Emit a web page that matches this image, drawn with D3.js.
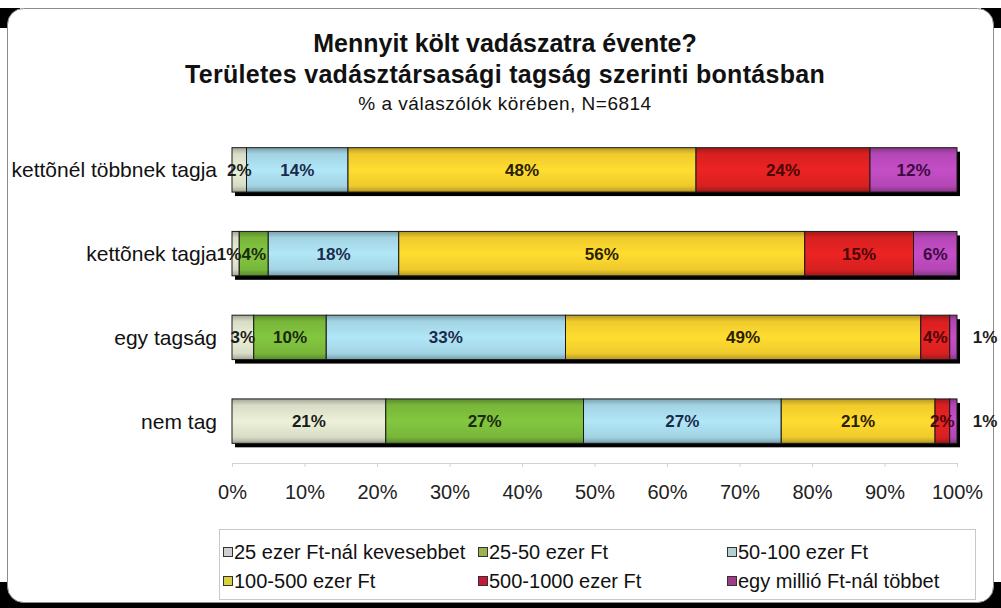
<!DOCTYPE html>
<html>
<head>
<meta charset="utf-8">
<script src="https://cdn.jsdelivr.net/npm/d3@7"></script>
<style>
  body { margin: 0; background: #fff; }
  svg { display: block; font-family: "Liberation Sans", Arial, sans-serif; }
</style>
</head>
<body>
<div id="container"></div>
<script>
// DATA
const categories = ["kettõnél többnek tagja", "kettõnek tagja", "egy tagság", "nem tag"];
const seriesNames = ["25 ezer Ft-nál kevesebbet", "25-50 ezer Ft", "50-100 ezer Ft",
                     "100-500 ezer Ft", "500-1000 ezer Ft", "egy millió Ft-nál többet"];
const under25 = [2, 1, 3, 21];
const from25to50 = [0, 4, 10, 27];
const from50to100 = [14, 18, 33, 27];
const from100to500 = [48, 56, 49, 21];
const from500to1000 = [24, 15, 4, 2];
const overMillion = [12, 6, 1, 1];
const tickValues = [0, 0.1, 0.2, 0.3, 0.4, 0.5, 0.6, 0.7, 0.8, 0.9, 1];

const seriesValues = [under25, from25to50, from50to100, from100to500, from500to1000, overMillion];

// colours
const barColors = ["#d8dcc6", "#78b63a", "#a2d3e3", "#efca2c", "#d82020", "#b447b6"];
const labelColors = ["#1c1c1c", "#1a2a10", "#1b2b4a", "#2a2000", "#4a0606", "#3c0a40"];
const legendColors = ["#cfcfcf", "#9cb24e", "#b2d2d2", "#d9d03e", "#c8183a", "#a23a8a"];

//SVG
const width = 1001;
const height = 608;

const svg = d3.select("div#container").append("svg")
    .attr("width", width)
    .attr("height", height);

// FRAME
const corners = [[0, 8], [981, 8], [0, 582], [981, 582]];
svg.selectAll("rect.corner")
    .data(corners)
    .enter().append("rect")
      .attr("class", "corner")
      .attr("x", d => d[0])
      .attr("y", d => d[1])
      .attr("width", 20)
      .attr("height", 20)
      .attr("fill", "#000");
svg.append("rect")
    .attr("x", 0).attr("y", 601)
    .attr("width", width).attr("height", 7)
    .attr("fill", "#000");
svg.append("rect")
    .attr("x", 7.5).attr("y", 8.5)
    .attr("width", 986).attr("height", 594)
    .attr("rx", 16).attr("ry", 16)
    .attr("fill", "#fff")
    .attr("stroke", "#8c8c8c");

// TITLES
const cx = 505;
svg.append("text")
    .attr("x", cx).attr("y", 52)
    .attr("text-anchor", "middle")
    .attr("font-size", 25).attr("font-weight", "bold")
    .attr("fill", "#111")
    .text("Mennyit költ vadászatra évente?");
svg.append("text")
    .attr("x", cx).attr("y", 83)
    .attr("text-anchor", "middle")
    .attr("font-size", 25).attr("font-weight", "bold")
    .attr("letter-spacing", 0.3)
    .attr("fill", "#111")
    .text("Területes vadásztársasági tagság szerinti bontásban");
svg.append("text")
    .attr("x", cx).attr("y", 110)
    .attr("text-anchor", "middle")
    .attr("font-size", 19).attr("letter-spacing", 0.5)
    .attr("fill", "#111")
    .text("% a válaszólók körében, N=6814");

//SCALES
const xScale = d3.scaleLinear().domain([0, 1]).range([232, 957]);
const yScale = d3.scaleBand().domain(categories)
    .range([128, 463])
    .paddingInner(0.47)
    .paddingOuter(0.235);

// rows for stack
const rows = categories.map((c, i) => {
  const r = { category: c };
  seriesNames.forEach((s, j) => { r[s] = seriesValues[j][i]; });
  return r;
});
const stacked = d3.stack().keys(seriesNames).offset(d3.stackOffsetExpand)(rows);

// GRADIENTS
const defs = svg.append("defs");
seriesNames.forEach((s, j) => {
  const base = d3.color(barColors[j]);
  const g = defs.append("linearGradient")
      .attr("id", "grad" + j)
      .attr("x1", 0).attr("y1", 0).attr("x2", 0).attr("y2", 1);
  const stops = [[0, base.darker(0.8)], [0.14, base], [0.5, base.brighter(0.25)],
                 [0.86, base], [1, base.darker(0.8)]];
  stops.forEach(st => g.append("stop").attr("offset", st[0]).attr("stop-color", st[1]));
});

// AXIS
const xAxisGen = d3.axisBottom(xScale)
    .tickValues(tickValues)
    .tickFormat(d3.format(".0%"))
    .tickSizeInner(4)
    .tickSizeOuter(0)
    .tickPadding(18);
const xAxis = svg.append("g")
    .attr("transform", "translate(0,463)")
    .call(xAxisGen);
xAxis.select(".domain").attr("stroke", "#d2d2d2");
xAxis.selectAll(".tick line").attr("stroke", "#d2d2d2");
xAxis.selectAll(".tick text")
    .attr("font-size", 20)
    .attr("font-family", "Liberation Sans, Arial, sans-serif")
    .attr("fill", "#222");

// SHADOWS
svg.append("g")
    .selectAll("rect")
    .data(categories)
    .enter().append("rect")
      .attr("x", xScale(0) + 3)
      .attr("y", d => yScale(d) + 4)
      .attr("width", xScale(1) - xScale(0))
      .attr("height", yScale.bandwidth())
      .attr("fill", "#000");

// BARS
const layers = svg.append("g")
    .selectAll("g")
    .data(stacked)
    .enter().append("g")
      .attr("fill", (d, j) => "url(#grad" + j + ")");
layers.selectAll("rect")
    .data(d => d.filter(p => p[1] - p[0] > 0))
    .enter().append("rect")
      .attr("x", p => xScale(p[0]))
      .attr("y", p => yScale(p.data.category))
      .attr("width", p => xScale(p[1]) - xScale(p[0]))
      .attr("height", yScale.bandwidth())
      .attr("stroke", "#1a1a1a")
      .attr("stroke-width", 1);

// LABELS
const last = seriesNames.length - 1;
stacked.forEach((layer, j) => {
  svg.append("g")
    .selectAll("text")
    .data(layer.filter(p => p.data[layer.key] > 0))
    .enter().append("text")
      .attr("x", p => {
        const v = p.data[layer.key];
        const w = xScale(p[1]) - xScale(p[0]);
        if (j === last && v <= 1) return xScale(1) + 28;
        if (j === 0 && w < 12) return xScale(p[1]) + 2;
        return (xScale(p[0]) + xScale(p[1])) / 2;
      })
      .attr("text-anchor", p => (j === 0 && xScale(p[1]) - xScale(p[0]) < 12) ? "end" : "middle")
      .attr("y", p => yScale(p.data.category) + yScale.bandwidth() / 2)
      .attr("dy", "0.36em")
      .attr("font-size", 17)
      .attr("font-weight", "bold")
      .attr("fill", p => (j === last && p.data[layer.key] <= 1) ? "#1c1c1c" : labelColors[j])
      .text(p => p.data[layer.key] + "%");
});

// CATEGORY LABELS
svg.append("g")
    .selectAll("text")
    .data(categories)
    .enter().append("text")
      .attr("x", 217)
      .attr("y", d => yScale(d) + yScale.bandwidth() / 2)
      .attr("dy", "0.36em")
      .attr("text-anchor", "end")
      .attr("font-size", 21)
      .attr("fill", "#111")
      .text(d => d);

// LEGEND
svg.append("rect")
    .attr("x", 219.5).attr("y", 529.5)
    .attr("width", 756).attr("height", 70)
    .attr("fill", "#fff")
    .attr("stroke", "#c8c8c8");
const legendCols = [223, 478, 727];
const legendRows = [552, 581];
const legend = svg.append("g")
    .selectAll("g")
    .data(seriesNames)
    .enter().append("g")
      .attr("transform", (d, i) => "translate(" + legendCols[i % 3] + "," + legendRows[Math.floor(i / 3)] + ")");
legend.append("rect")
    .attr("x", 0.5).attr("y", -4.5)
    .attr("width", 9).attr("height", 9)
    .attr("fill", (d, i) => legendColors[i])
    .attr("stroke", "#333");
legend.append("text")
    .attr("x", 11)
    .attr("dy", "0.36em")
    .attr("font-size", 20)
    .attr("fill", "#111")
    .text(d => d);
</script>
</body>
</html>
